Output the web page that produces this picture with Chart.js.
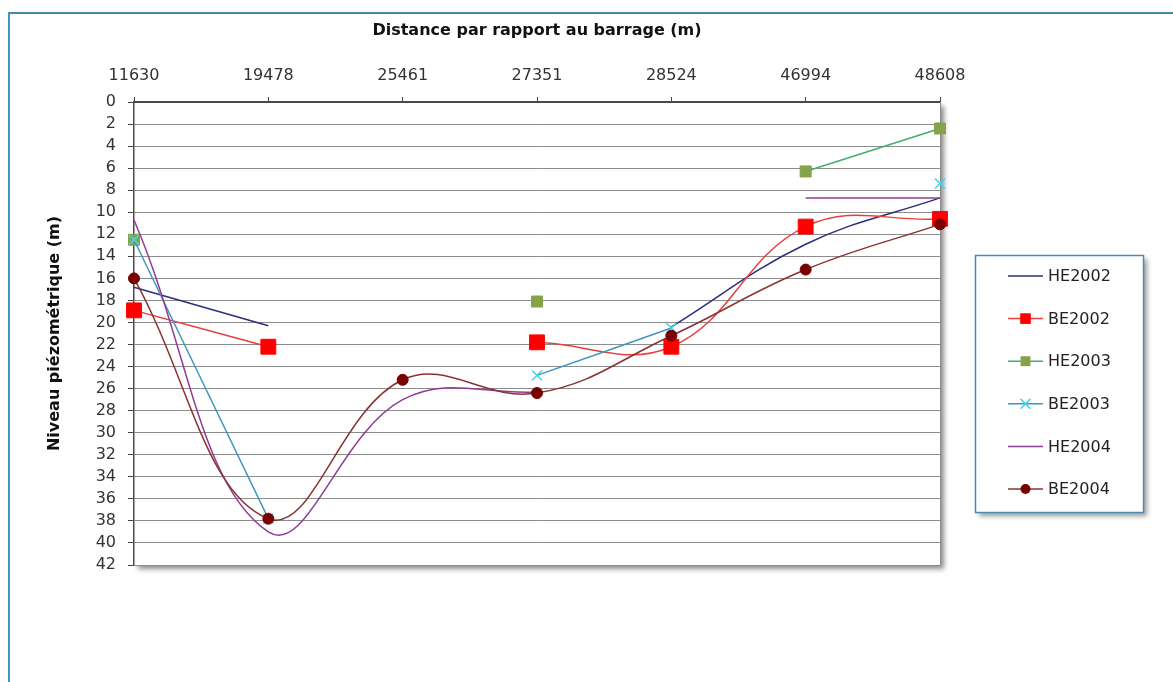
<!DOCTYPE html>
<html>
<head>
<meta charset="utf-8">
<script src="https://cdn.jsdelivr.net/npm/chart.js@4/dist/chart.umd.min.js"></script>
<style>
  html, body { margin: 0; padding: 0; background: #fff; overflow: hidden; }
  #wrap { position: relative; width: 1173px; height: 682px; }
  #frame { position: absolute; left: 8px; top: 12px; width: 1400px; height: 900px;
           border-top: 2px solid #4a86aa; border-left: 2px solid #3f97bf; background: #fff; }
  #chart { position: absolute; left: 0; top: 0; }
</style>
</head>
<body>
<div id="wrap">
  <div id="frame"></div>
  <canvas id="chart" width="1173" height="682"></canvas>
</div>
<script>
// Distances from the dam (m) and piezometric levels (m) per campaign
const distances = ['11630', '19478', '25461', '27351', '28524', '46994', '48608'];
const he2002 = [16.8, 20.3, null, null, 20.4, 12.9, 8.7];
const be2002 = [18.9, 22.2, null, 21.8, 22.2, 11.3, 10.6];
const he2003 = [12.5, null, null, 18.1, null, 6.3, 2.4];
const be2003 = [12.5, 37.8, null, 24.8, 20.5, null, 7.4];
const he2004 = [10.7, 39.0, 27.0, 26.3, null, 8.7, 8.7];
const be2004 = [16.0, 37.8, 25.2, 26.4, 21.2, 15.2, 11.1];

const seriesNames = ['HE2002', 'BE2002', 'HE2003', 'BE2003', 'HE2004', 'BE2004'];
const seriesValues = [he2002, be2002, he2003, be2003, he2004, be2004];

const FONT = "'DejaVu Sans', sans-serif";

const styles = [
  { line: '#2a2f7c', marker: null },
  { line: '#e8403f', marker: { style: 'rect', color: '#ff0000', radius: 10.5, legendRadius: 7.5 } },
  { line: '#3fae6e', marker: { style: 'rect', color: '#86a34a', radius: 7.8, legendRadius: 7 } },
  { line: '#3f96bf', marker: { style: 'crossRot', color: '#45d2ea', radius: 7, legendRadius: 7 } },
  { line: '#8e3c95', marker: null },
  { line: '#8a3232', marker: { style: 'circle', color: '#7a0000', radius: 5.5, legendRadius: 5 } }
];

const datasets = seriesNames.map((name, i) => {
  const s = styles[i];
  return {
    label: name,
    data: seriesValues[i],
    borderColor: s.line,
    borderWidth: 1.5,
    tension: 0.4,
    spanGaps: false,
    pointStyle: s.marker ? s.marker.style : 'circle',
    pointRadius: s.marker ? s.marker.radius : 0,
    pointHoverRadius: s.marker ? s.marker.radius : 0,
    pointBackgroundColor: s.marker ? s.marker.color : s.line,
    pointBorderColor: s.marker ? s.marker.color : s.line,
    pointBorderWidth: s.marker && s.marker.style === 'crossRot' ? 1.5 : 1,
    order: seriesNames.length - i
  };
});

// White plot area with a soft shadow on its right and bottom edges
const plotShadow = {
  id: 'plotShadow',
  beforeDraw(chart) {
    const { ctx, chartArea: a } = chart;
    ctx.save();
    ctx.shadowColor = 'rgba(0,0,0,0.45)';
    ctx.shadowOffsetX = 4;
    ctx.shadowOffsetY = 4;
    ctx.shadowBlur = 5;
    ctx.fillStyle = '#fff';
    ctx.fillRect(a.left, a.top, a.right - a.left, a.bottom - a.top);
    ctx.restore();
  },
  beforeDatasetsDraw(chart) {
    const { ctx, chartArea: a } = chart;
    ctx.save();
    ctx.strokeStyle = '#8a8a8a';
    ctx.lineWidth = 1;
    ctx.beginPath();
    ctx.moveTo(Math.round(a.right) + 0.5, a.top);
    ctx.lineTo(Math.round(a.right) + 0.5, a.bottom);
    ctx.stroke();
    ctx.restore();
  }
};

function drawMarker(ctx, m, x, y, r) {
  ctx.save();
  ctx.fillStyle = m.color;
  ctx.strokeStyle = m.color;
  if (m.style === 'rect') {
    const h = r * Math.SQRT1_2;
    ctx.fillRect(x - h, y - h, 2 * h, 2 * h);
  } else if (m.style === 'circle') {
    ctx.beginPath();
    ctx.arc(x, y, r, 0, Math.PI * 2);
    ctx.fill();
  } else if (m.style === 'crossRot') {
    const h = r * Math.SQRT1_2;
    ctx.lineWidth = 1.5;
    ctx.beginPath();
    ctx.moveTo(x - h, y - h); ctx.lineTo(x + h, y + h);
    ctx.moveTo(x - h, y + h); ctx.lineTo(x + h, y - h);
    ctx.stroke();
  }
  ctx.restore();
}

// Boxed legend to the right of the plot
const boxLegend = {
  id: 'boxLegend',
  afterDraw(chart) {
    const { ctx } = chart;
    const bx = 975, by = 255, bw = 168, bh = 257;
    ctx.save();
    ctx.shadowColor = 'rgba(0,0,0,0.4)';
    ctx.shadowOffsetX = 4;
    ctx.shadowOffsetY = 4;
    ctx.shadowBlur = 5;
    ctx.fillStyle = '#fff';
    ctx.fillRect(bx, by, bw, bh);
    ctx.restore();
    ctx.save();
    ctx.strokeStyle = '#4a8cb4';
    ctx.lineWidth = 1.5;
    ctx.strokeRect(bx + 0.5, by + 0.5, bw, bh);
    ctx.font = '16px ' + FONT;
    ctx.textBaseline = 'middle';
    ctx.fillStyle = '#222';
    chart.data.datasets.forEach((ds, i) => {
      const y = 276 + i * 42.6;
      ctx.strokeStyle = ds.borderColor;
      ctx.lineWidth = 1.5;
      ctx.beginPath();
      ctx.moveTo(1008, y);
      ctx.lineTo(1043, y);
      ctx.stroke();
      const m = styles[i].marker;
      if (m) drawMarker(ctx, m, 1025.5, y, m.legendRadius);
      ctx.fillStyle = '#222';
      ctx.fillText(ds.label, 1048, y + 1);
    });
    ctx.restore();
  }
};

new Chart(document.getElementById('chart'), {
  type: 'line',
  data: { labels: distances, datasets },
  plugins: [plotShadow, boxLegend],
  options: {
    responsive: false,
    animation: false,
    events: [],
    layout: { padding: { left: 38, top: 12, right: 233, bottom: 117 } },
    plugins: { legend: { display: false }, tooltip: { enabled: false }, title: { display: false } },
    scales: {
      x: {
        type: 'category',
        position: 'top',
        offset: false,
        afterFit(scale) { scale.height = 90; },
        grid: { drawOnChartArea: false, drawTicks: true, tickLength: 5, tickColor: '#444', color: '#444' },
        border: { display: true, color: '#4a4a4a', width: 2 },
        ticks: { color: '#333', font: { family: FONT, size: 16 }, padding: 12, maxRotation: 0, autoSkip: false },
        title: {
          display: true,
          text: 'Distance par rapport au barrage (m)',
          color: '#111',
          font: { family: FONT, size: 16, weight: 'bold' },
          padding: { top: 9, bottom: 0 }
        }
      },
      y: {
        type: 'linear',
        reverse: true,
        min: 0,
        max: 42,
        afterFit(scale) { scale.width = 96; },
        grid: { color: '#8c8c8c', lineWidth: 1, tickLength: 6, tickColor: '#444' },
        border: { display: true, color: '#4a4a4a', width: 1.5 },
        ticks: { stepSize: 2, autoSkip: false, color: '#333', font: { family: FONT, size: 16 }, padding: 12 },
        title: {
          display: true,
          text: 'Niveau piézométrique (m)',
          color: '#111',
          font: { family: FONT, size: 16, weight: 'bold' },
          padding: { top: 7, bottom: 0 }
        }
      }
    }
  }
});
</script>
</body>
</html>
